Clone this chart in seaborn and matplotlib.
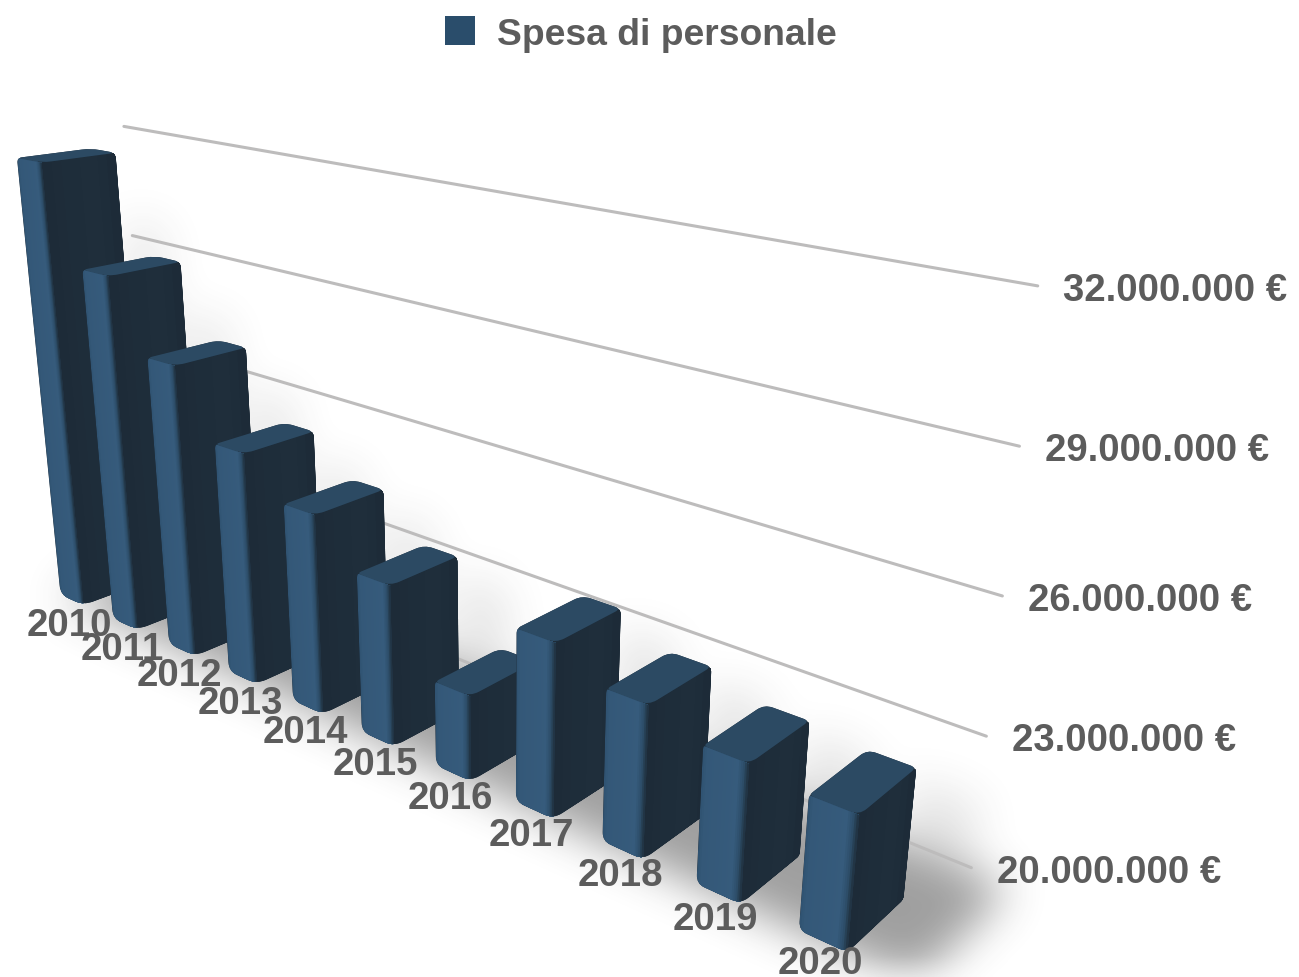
import numpy as np
import pandas as pd
import matplotlib
matplotlib.use("Agg")
import matplotlib.pyplot as plt
import seaborn as sns
from matplotlib.colors import LinearSegmentedColormap
from matplotlib.patches import Patch, PathPatch, Polygon
from matplotlib.path import Path

# Chart data
anni = [2010, 2011, 2012, 2013, 2014, 2015, 2016, 2017, 2018, 2019, 2020]
spesa = [31_500_000, 28_870_000, 26_960_000, 25_190_000, 24_210_000, 23_090_000,
         21_060_000, 23_200_000, 22_570_000, 22_130_000, 21_960_000]
tick_valori = [20_000_000, 23_000_000, 26_000_000, 29_000_000, 32_000_000]
serie = "Spesa di personale"

# Scene setup: reference floor value, base of the bars, bar footprint and back wall
FLOOR = 19_000_000
BAR_BASE = 18_850_000
BAR_W = 0.444
WALL_Y = 1.14
WALL_T = (-0.5, 10.0)

# Perspective camera: vanishing points of the year, depth and value axes
VP_T = np.array([-1580.0, -150.0, 1.0])
VP_T_WALL = np.array([-1580.0, -170.0, 1.0])
VP_D = np.array([1950.0, -90.0, 1.0])
VP_Z = np.array([500.0, 5000.0, 1.0])
ORIGIN = np.array([848.0, 947.0, 1.0])
K_T, K_D, K_Z = 0.0460, 0.0535, -0.01057


def project(t, d, value, vp_t=VP_T):
    """Map (years before the last one, depth, value in euro) to figure pixels."""
    z = (value - FLOOR) / 1e6
    h = ORIGIN + K_T * t * vp_t + K_D * d * VP_D + K_Z * z * VP_Z
    return h[0] / h[2], h[1] / h[2]


def rounded_path(points, radii):
    """Closed path through the points with quadratic corners of the given radii."""
    pts = [np.array(p, float) for p in points]
    n = len(pts)
    verts, codes = [], []
    for i, (p, r) in enumerate(zip(pts, radii)):
        prev_dir = pts[i - 1] - p
        next_dir = pts[(i + 1) % n] - p
        a = p + prev_dir / np.linalg.norm(prev_dir) * r
        b = p + next_dir / np.linalg.norm(next_dir) * r
        verts.append(a)
        codes.append(Path.MOVETO if i == 0 else Path.LINETO)
        verts.extend([p, b])
        codes.extend([Path.CURVE3, Path.CURVE3])
    verts.append(verts[0])
    codes.append(Path.CLOSEPOLY)
    return Path(np.array(verts), codes)


def box_blur(img, size, passes=3):
    """Repeated box filter along both axes, close to a gaussian blur."""
    kernel = np.ones(size) / size
    for _ in range(passes):
        img = np.apply_along_axis(lambda r: np.convolve(r, kernel, mode="same"), 0, img)
        img = np.apply_along_axis(lambda r: np.convolve(r, kernel, mode="same"), 1, img)
    return img


sns.set_theme(style="white")
plt.rcParams["font.family"] = ["Liberation Sans", "DejaVu Sans"]

fig = plt.figure(figsize=(12.99, 9.78), dpi=100)
ax = fig.add_axes([0, 0, 1, 1])

TESTO = "#5c5c5c"
left_cmap = LinearSegmentedColormap.from_list(
    "left", [(0, "#2f5270"), (0.1, "#345878"), (0.78, "#365b7c"), (0.9, "#2d4d68"), (1, "#1f2f3d")])
right_cmap = LinearSegmentedColormap.from_list(
    "right", [(0, "#1d2b38"), (0.6, "#1f2e3b"), (0.85, "#1e2d3a"), (1, "#1c2a36")])

# Soft shadow on the floor and wall, rasterised and blurred
SCALE = 2
gx, gy = np.meshgrid(np.arange(0, 1299, SCALE), np.arange(0, 978, SCALE))
grid = np.column_stack([gx.ravel(), gy.ravel()])
shadow = np.zeros(gx.shape)
for i, v in enumerate(spesa):
    t = len(anni) - 1 - i
    floor_quad = [project(t + BAR_W, 0.0, BAR_BASE), project(t - 0.6, 0.0, BAR_BASE),
                  project(t - 0.6, 1.8, BAR_BASE), project(t + BAR_W, 1.8, BAR_BASE)]
    wall_quad = [project(t + 0.1, WALL_Y, BAR_BASE), project(t - 0.5, WALL_Y, BAR_BASE),
                 project(t - 0.5, WALL_Y, BAR_BASE + (v - BAR_BASE) * 0.85),
                 project(t + 0.1, WALL_Y, BAR_BASE + (v - BAR_BASE) * 0.85)]
    shadow = np.maximum(shadow, 0.5 * Path(floor_quad).contains_points(grid).reshape(gx.shape))
    shadow = np.maximum(shadow, 0.14 * Path(wall_quad).contains_points(grid).reshape(gx.shape))
shadow = box_blur(shadow, 21)
rgba = np.zeros(gx.shape + (4,))
rgba[..., :3] = 0.25
rgba[..., 3] = shadow
ax.imshow(rgba, extent=(0, 1299, 978, 0), origin="upper", aspect="auto", zorder=1,
          interpolation="bilinear")

# Gridlines on the back wall
griglia = []
for valore in tick_valori:
    for t in WALL_T:
        px, py = project(t, WALL_Y, valore, VP_T_WALL)
        griglia.append({"valore": valore, "px": px, "py": py})
griglia = pd.DataFrame(griglia)
sns.lineplot(data=griglia, x="px", y="py", units="valore", estimator=None, sort=False,
             color="#bdbcbc", linewidth=2.2, legend=False, ax=ax)
for linea in ax.lines:
    linea.set_zorder(2)
ax.set_xlabel("")
ax.set_ylabel("")

# Value labels at the right end of each gridline
for valore in tick_valori:
    px, py = project(WALL_T[0], WALL_Y, valore, VP_T_WALL)
    etichetta = f"{valore:,.0f} €".replace(",", ".")
    ax.annotate(etichetta, (px, py), xytext=(18.5, -3), textcoords="offset points",
                ha="left", va="center", fontsize=27.6, fontweight="bold", color=TESTO, zorder=30)

# Bars, back to front, each made of two shaded side faces and a rounded top.
# Every strip runs to the far edge of its face so neighbouring strips leave no seam.
N_STRIPS = 24
for i, v in enumerate(spesa):
    t = len(anni) - 1 - i
    z = 3 + i
    lb = project(t + BAR_W, 0, BAR_BASE)
    fb = project(t, 0, BAR_BASE)
    rb = project(t, 1, BAR_BASE)
    lt = project(t + BAR_W, 0, v)
    ft = project(t, 0, v)
    rt = project(t, 1, v)
    bt = project(t + BAR_W, 1, v)

    outline = rounded_path([lb, fb, rb, rt, bt, lt], [9, 10, 4, 6, 9, 5])
    ax.add_patch(PathPatch(outline, facecolor="#1e2d3a", edgecolor="none", zorder=z))

    for s in np.linspace(0, 1, N_STRIPS, endpoint=False):
        a = t + BAR_W * (1 - s)
        strip = Polygon([project(a, 0, BAR_BASE), project(t, 0, BAR_BASE), project(t, 0, v), project(a, 0, v)],
                        facecolor=left_cmap(s + 0.5 / N_STRIPS), edgecolor="none", zorder=z)
        ax.add_patch(strip)
        strip.set_clip_path(outline, transform=ax.transData)
    for s in np.linspace(0, 1, 8, endpoint=False):
        strip = Polygon([project(t, s, BAR_BASE), project(t, 1, BAR_BASE), project(t, 1, v), project(t, s, v)],
                        facecolor=right_cmap(s + 0.5 / 8), edgecolor="none", zorder=z)
        ax.add_patch(strip)
        strip.set_clip_path(outline, transform=ax.transData)

    top = PathPatch(rounded_path([lt, ft, rt, bt], [5, 10, 6, 9]),
                    facecolor="#2c4a63", edgecolor="none", zorder=z)
    ax.add_patch(top)

# Year labels under the front edge of each bar, kept inside the lower canvas edge
for i, anno in enumerate(anni):
    t = len(anni) - 1 - i
    px, py = project(t + BAR_W / 2, 0, BAR_BASE)
    ax.annotate(str(anno), (px, min(py, 939)), xytext=(-2, -18), textcoords="offset points",
                ha="center", va="center", fontsize=27.6, fontweight="bold", color=TESTO, zorder=30)

# Legend
handle = Patch(facecolor="#2a4d6b", edgecolor="none", label=serie)
ax.legend(handles=[handle], loc="center", bbox_to_anchor=(641, 35), bbox_transform=ax.transData,
          frameon=False, handlelength=0.8, handleheight=0.8, handletextpad=0.59,
          labelcolor=TESTO, prop={"weight": "bold", "size": 26.8})

ax.set_xlim(0, 1299)
ax.set_ylim(978, 0)
ax.axis("off")

fig.savefig("out.png", dpi=100)
